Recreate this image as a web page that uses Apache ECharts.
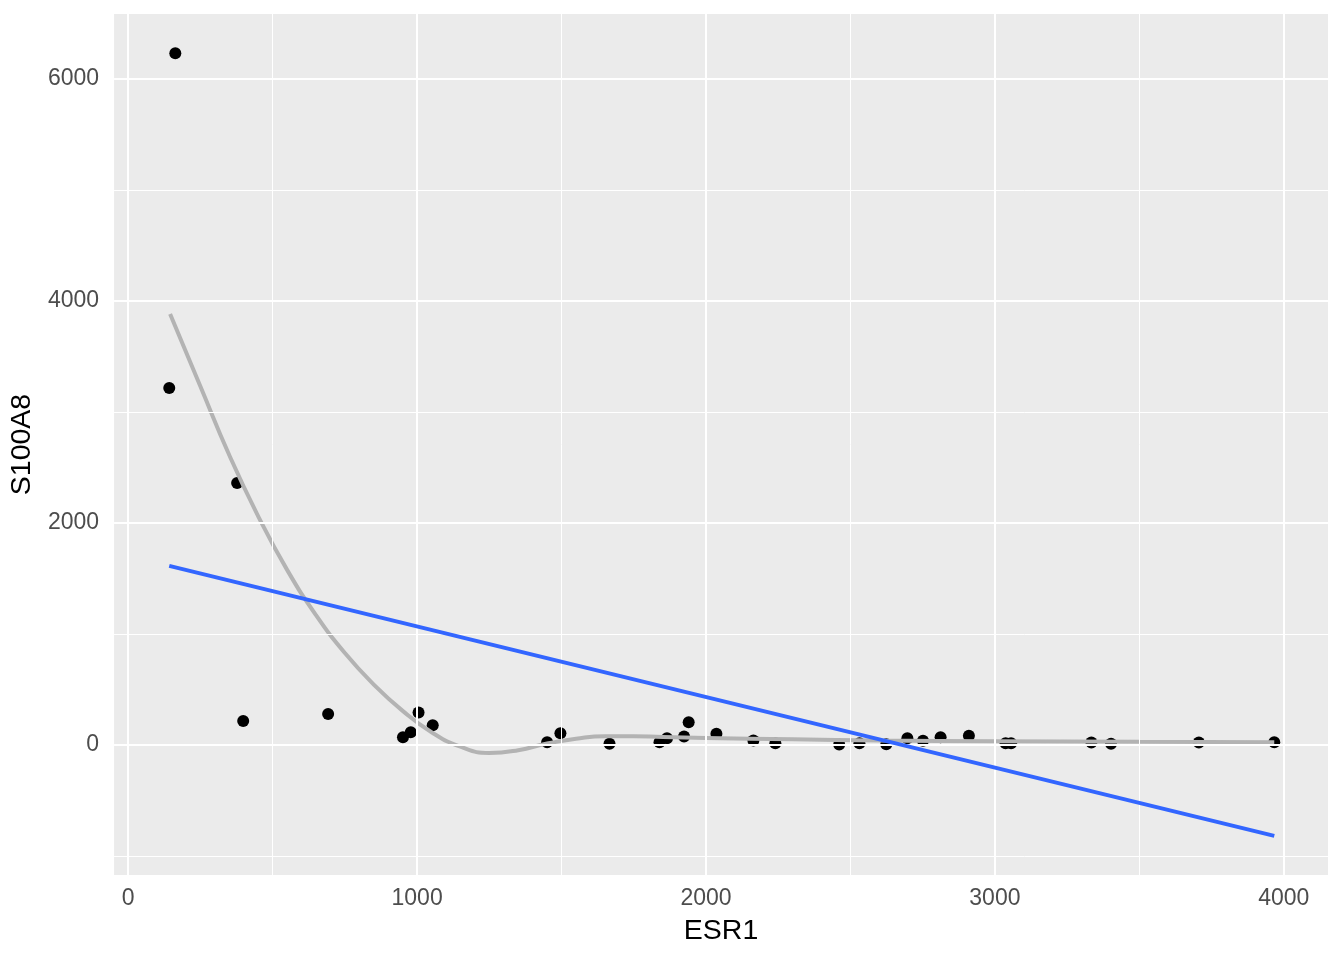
<!DOCTYPE html>
<html>
<head>
<meta charset="utf-8">
<script src="https://cdn.jsdelivr.net/npm/echarts@6/dist/echarts.min.js"></script>
<style>html,body{margin:0;padding:0;background:#fff}#c{width:1344px;height:960px}</style>
</head>
<body>
<div id="c"></div>
<script>
// Scatter points (ESR1, S100A8)
const esr1 = [163,142,377,398,692,951,978,1005,1054,1450,1496,1666,1839,1865,1924,1940,2036,2164,2240,2461,2531,2624,2697,2751,2812,2910,3037,3056,3334,3402,3706,3967];
const s100a8 = [6234,3216,2360,216,279,69,114,291,177,24,105,9,24,60,75,204,99,39,15,3,15,6,60,36,69,81,15,15,21,9,21,24];
// Linear fit (blue)
const lmX = [142, 3967];
const lmY = [1613, -820];
// Loess fit (grey)
const loessX = [145,250,350,450,550,650,750,850,950,1050,1150,1250,1350,1450,1550,1650,1750,1850,2000,2300,2600,3000,3500,3967];
const loessY = [3883,3230,2610,2060,1577,1169,827,543,306,114,-17,-73,-48,12,55,78,78,70,62,50,40,33,27,24];
// Axis ticks
const xTicks = [0,1000,2000,3000,4000];
const xMinor = [500,1500,2500,3500];
const yTicks = [0,2000,4000,6000];
const yMinor = [-1000,1000,3000,5000];

const xMin = -49, xMax = 4153, yMin = -1173, yMax = 6587;

const font = '"Liberation Sans", Arial, Helvetica, sans-serif';
const chart = echarts.init(document.getElementById('c'));

const gridLines = [];
xMinor.forEach(v => gridLines.push({xAxis: v, lineStyle: {color: '#fff', width: 1, type: 'solid'}}));
yMinor.forEach(v => gridLines.push({yAxis: v, lineStyle: {color: '#fff', width: 1, type: 'solid'}}));
xTicks.forEach(v => gridLines.push({xAxis: v, lineStyle: {color: '#fff', width: 2, type: 'solid'}}));
yTicks.forEach(v => gridLines.push({yAxis: v, lineStyle: {color: '#fff', width: 2, type: 'solid'}}));

chart.setOption({
  animation: false,
  grid: {left: 114, right: 16, top: 14, bottom: 85, show: true, backgroundColor: '#EBEBEB', borderWidth: 0},
  xAxis: {
    type: 'value', min: xMin, max: xMax,
    name: 'ESR1', nameLocation: 'middle', nameGap: 42,
    nameTextStyle: {fontFamily: font, fontSize: 28.5, color: '#000'},
    axisLine: {show: false},
    axisTick: {show: true, length: 6, customValues: xTicks, lineStyle: {color: '#333', width: 1.5}},
    axisLabel: {customValues: xTicks, formatter: v => String(v), fontFamily: font, fontSize: 23, color: '#4D4D4D', margin: 12},
    splitLine: {show: false}
  },
  yAxis: {
    type: 'value', min: yMin, max: yMax,
    name: 'S100A8', nameLocation: 'middle', nameGap: 77, nameRotate: 90,
    nameTextStyle: {fontFamily: font, fontSize: 28.5, color: '#000'},
    axisLine: {show: false},
    axisTick: {show: true, length: 6, customValues: yTicks, lineStyle: {color: '#333', width: 1.5}},
    axisLabel: {customValues: yTicks, formatter: v => String(v), fontFamily: font, fontSize: 23, color: '#4D4D4D', margin: 15},
    splitLine: {show: false}
  },
  series: [
    {
      type: 'scatter', data: [], silent: true, z: 1,
      markLine: {silent: true, symbol: 'none', label: {show: false}, animation: false, data: gridLines}
    },
    {
      type: 'scatter', z: 3, symbolSize: 12,
      itemStyle: {color: '#000', opacity: 1},
      data: esr1.map((x, i) => [x, s100a8[i]])
    },
    {
      type: 'line', z: 4, smooth: 0.5, showSymbol: false,
      lineStyle: {color: '#B3B3B3', width: 4},
      data: loessX.map((x, i) => [x, loessY[i]])
    },
    {
      type: 'line', z: 5, showSymbol: false,
      lineStyle: {color: '#3366FF', width: 4},
      data: lmX.map((x, i) => [x, lmY[i]])
    }
  ]
});
</script>
</body>
</html>
